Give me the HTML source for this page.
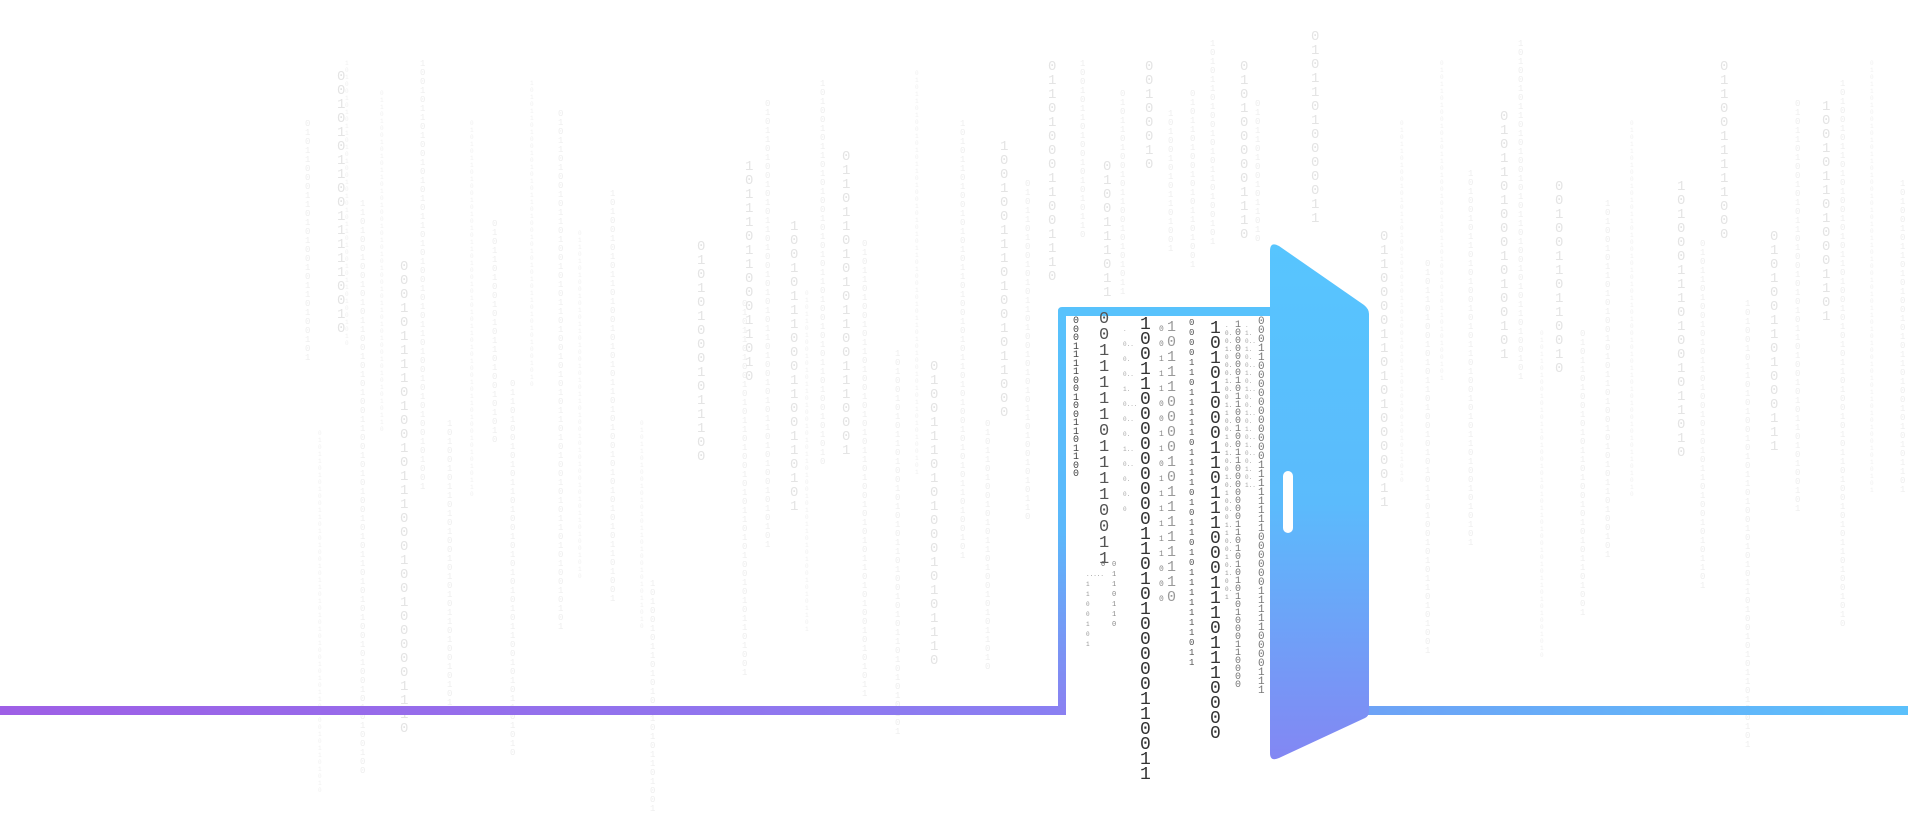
<!DOCTYPE html>
<html><head><meta charset="utf-8"><style>
html,body{margin:0;padding:0;background:#fff;}
body{width:1920px;height:783px;position:relative;overflow:hidden;font-family:"Liberation Mono",monospace;}
.c{position:absolute;width:1ch;word-break:break-all;text-align:center;white-space:normal;}
.l{color:#eeeeee;font-size:9px;line-height:9px;}
.m{color:#e4e4e4;font-size:14px;line-height:14px;}
.s{color:#f0f0f0;font-size:6px;line-height:7px;}
</style></head><body>
<!-- light background columns -->
<div class="c m" style="left:337px;top:70px;">0010101100111110010</div>
<div class="c l" style="left:305px;top:120px;">010110001101010010110100101</div>
<div class="c s" style="left:318px;top:430px;">0101101010011010100101101010101001010110100101101010</div>
<div class="c l" style="left:360px;top:200px;">1101001001010110010101001100101010010101101010100101001010100100</div>
<div class="c s" style="left:345px;top:60px;">10100101011010100101010110100101101001010</div>
<div class="c m" style="left:400px;top:260px;">0001011110100101110001001000001110</div>
<div class="c s" style="left:380px;top:90px;">0110100101011010100101010100101101010010101010110</div>
<div class="c l" style="left:420px;top:60px;">100101101001010101101010010101101001010100101001</div>
<div class="c l" style="left:447px;top:420px;">10100101101010010101011010010101</div>
<div class="c s" style="left:470px;top:120px;">010101101001010101101001010101101010010110100101010110</div>
<div class="c l" style="left:492px;top:220px;">0101101001010110100101010</div>
<div class="c l" style="left:510px;top:380px;">011010010101101001010101010110010101101010</div>
<div class="c s" style="left:530px;top:80px;">10101101001010101101001010101011010101001010</div>
<div class="c l" style="left:558px;top:110px;">0101101001011010010101101001010101101010010101101010010101</div>
<div class="c s" style="left:578px;top:230px;">01101010010101101001010110100101010010101101001010</div>
<div class="c l" style="left:610px;top:190px;">1010010101101001010101101010010101010101101001</div>
<div class="c s" style="left:640px;top:420px;">010110100101010110100101011010</div>
<div class="c l" style="left:650px;top:580px;">10100101101010010101101001</div>
<div class="c m" style="left:697px;top:240px;">0101010001011100</div>
<div class="c l" style="left:742px;top:300px;">010110100101011010010101101010010101101001</div>
<div class="c m" style="left:745px;top:160px;">1011101100011010</div>
<div class="c l" style="left:765px;top:100px;">01011010010101101001010101101001010110101001010101</div>
<div class="c m" style="left:790px;top:220px;">100101110001100110101</div>
<div class="c s" style="left:805px;top:290px;">0101101001010110100101011010010101101010010101101</div>
<div class="c l" style="left:820px;top:80px;">1010010110101001010101101001010110100101010</div>
<div class="c m" style="left:842px;top:150px;">0110110101011001110001</div>
<div class="c l" style="left:862px;top:240px;">010110100101101001010101101001010101101010010101011</div>
<div class="c l" style="left:895px;top:350px;">1010010101101001010101101001010110101010101</div>
<div class="c s" style="left:915px;top:70px;">0101101001010110100101010110100101011010100101011010100101</div>
<div class="c m" style="left:930px;top:360px;">0100111010100010101110</div>
<div class="c l" style="left:960px;top:120px;">1010110100101010110100101011010100101010110100101</div>
<div class="c l" style="left:985px;top:420px;">0101101001010110100101011010</div>
<div class="c m" style="left:1000px;top:140px;">10010011101001011000</div>
<div class="c l" style="left:1025px;top:180px;">01011010010101101001010101101001010110</div>
<div class="c m" style="left:1048px;top:60px;">0110100011001110</div>
<div class="c l" style="left:1080px;top:60px;">10010110100101010110</div>
<div class="c m" style="left:1103px;top:160px;">0100111011</div>
<div class="c l" style="left:1120px;top:90px;">01011010010110010101011</div>
<div class="c m" style="left:1145px;top:60px;">00100010</div>
<div class="c l" style="left:1168px;top:110px;">1010010101101001</div>
<div class="c l" style="left:1190px;top:90px;">01011010010101101001</div>
<div class="c l" style="left:1210px;top:40px;">10101101001010110100101</div>
<div class="c m" style="left:1240px;top:60px;">0101000001110</div>
<div class="c l" style="left:1255px;top:100px;">0101101001011010</div>
<div class="c m" style="left:1311px;top:30px;">01011010000011</div>
<div class="c m" style="left:1380px;top:230px;">01100001101010000011</div>
<div class="c s" style="left:1400px;top:120px;">0101101001010110100101010110100101011010100101011010</div>
<div class="c l" style="left:1425px;top:260px;">01011010010101101001010101101001010110101001</div>
<div class="c s" style="left:1440px;top:60px;">0101101001010110100101010110100101011010100101</div>
<div class="c l" style="left:1468px;top:170px;">101001011010100101011010010101101001010101</div>
<div class="c m" style="left:1500px;top:110px;">010110100010100101</div>
<div class="c l" style="left:1518px;top:40px;">10100101101010010101101001010110100101</div>
<div class="c s" style="left:1540px;top:330px;">01011010010101101001010101101001010110101001010</div>
<div class="c m" style="left:1555px;top:180px;">00100110110010</div>
<div class="c l" style="left:1580px;top:330px;">01011010010101101001010101101001</div>
<div class="c l" style="left:1605px;top:200px;">1010010110101001010110100101010110100101</div>
<div class="c s" style="left:1630px;top:120px;">010110100101011010010101011010010101101010010101101010</div>
<div class="c m" style="left:1677px;top:180px;">10100011101001011010</div>
<div class="c l" style="left:1700px;top:240px;">010110100101011010010101011010010101101</div>
<div class="c m" style="left:1720px;top:60px;">0110011111000</div>
<div class="c m" style="left:1770px;top:230px;">0101001101000111</div>
<div class="c l" style="left:1745px;top:300px;">10100101101010010101101001010101101001010110100101</div>
<div class="c m" style="left:1822px;top:100px;">1001011010001101</div>
<div class="c l" style="left:1795px;top:100px;">0101101001010110100101010110100101011010100101</div>
<div class="c l" style="left:1840px;top:80px;">1010010110101001010110100101010110100101011010010101101001010</div>
<div class="c s" style="left:1870px;top:60px;">01011010010101101001010101101001010110101001010110101001010101</div>
<div class="c l" style="left:1900px;top:180px;">10100101101010010101101001010101101</div>

<!-- frame & lines -->
<svg width="1920" height="783" style="position:absolute;left:0;top:0;">
<defs>
<linearGradient id="hl" x1="0" y1="0" x2="1" y2="0"><stop offset="0" stop-color="#9e5fe6"/><stop offset="1" stop-color="#8a80f2"/></linearGradient>
<linearGradient id="hr" x1="0" y1="0" x2="1" y2="0"><stop offset="0" stop-color="#6ea2f6"/><stop offset="1" stop-color="#5bc0fb"/></linearGradient>
<linearGradient id="fv" x1="0" y1="307" x2="0" y2="715" gradientUnits="userSpaceOnUse"><stop offset="0" stop-color="#58c2fc"/><stop offset="0.55" stop-color="#5bb8fb"/><stop offset="1" stop-color="#8b80f1"/></linearGradient>
<linearGradient id="dg" x1="0" y1="245" x2="0" y2="762" gradientUnits="userSpaceOnUse"><stop offset="0" stop-color="#57c5fe"/><stop offset="0.5" stop-color="#5bbbfc"/><stop offset="1" stop-color="#8386f3"/></linearGradient>
</defs>
<rect x="0" y="706" width="1066" height="9" fill="url(#hl)"/>
<path d="M1058 710 L1058 311 Q1058 307 1062 307 L1272 307 L1272 316 L1066 316 L1066 710 Q1066 715 1061 715 L1058 715 Z" fill="url(#fv)"/>
<rect x="1360" y="706" width="548" height="9" fill="url(#hr)"/>
</svg>

<!-- dark binary inside frame -->
<div class="c" style="left:1073px;top:318px;font-size:10px;line-height:8.5px;color:#444;">0001111001001101100</div>
<div class="c" style="left:1099px;top:312px;font-size:17px;line-height:16px;color:#555;">0011111011110011</div>
<div class="c" style="left:1101px;top:560px;font-size:7px;line-height:10px;color:#666;">0</div>
<div class="c" style="left:1086px;top:570px;font-size:6px;line-height:10px;color:#999;">.....1100101</div>
<div class="c" style="left:1112px;top:560px;font-size:7px;line-height:10px;color:#888;">0110110</div>
<div class="c" style="left:1123px;top:322px;font-size:6px;line-height:15px;color:#aaa;">.0..0.0..1.0...0..0.1..0..0.0.0</div>
<div class="c" style="left:1140px;top:318px;font-size:18px;line-height:15px;color:#333;">1001100000000011010100000110011</div>
<div class="c" style="left:1159px;top:322px;font-size:8px;line-height:15px;color:#888;">0011100110111111000</div>
<div class="c" style="left:1167px;top:320px;font-size:15px;line-height:15px;color:#999;">1011100001011111110</div>
<div class="c" style="left:1189px;top:318px;font-size:9px;line-height:10px;color:#555;">00001101111101111010110101111111011</div>
<div class="c" style="left:1210px;top:322px;font-size:18px;line-height:15px;color:#333;">1010100011011100011101110000</div>
<div class="c" style="left:1225px;top:322px;font-size:6px;line-height:8px;color:#999;">.0.0.1.00.0.1.0.01.10.0.10.1.0.01.0.10.0.01.10.0.10.1.00.1</div>
<div class="c" style="left:1235px;top:322px;font-size:10px;line-height:8px;color:#777;">1000000101100100110000000110101010101000110000</div>
<div class="c" style="left:1245px;top:322px;font-size:6px;line-height:8px;color:#aaa;">.1.0..1.0.0..1.0.1..0.0.1..0.1.0..1.0..0.1.0.1..</div>
<div class="c" style="left:1258px;top:318px;font-size:11px;line-height:9px;color:#777;">000110000000000011111111000000111110000111</div>

<!-- door -->
<svg width="1920" height="783" style="position:absolute;left:0;top:0;">
<path d="M1270 251 Q1270 241 1279 246 L1364 305 Q1369 309 1369 314 L1369 711 Q1369 716 1365 718 L1279 758 Q1270 762 1270 753 Z" fill="url(#dg)"/>
<rect x="1283" y="471" width="10" height="62" rx="5" fill="#fff"/>
</svg>
</body></html>
